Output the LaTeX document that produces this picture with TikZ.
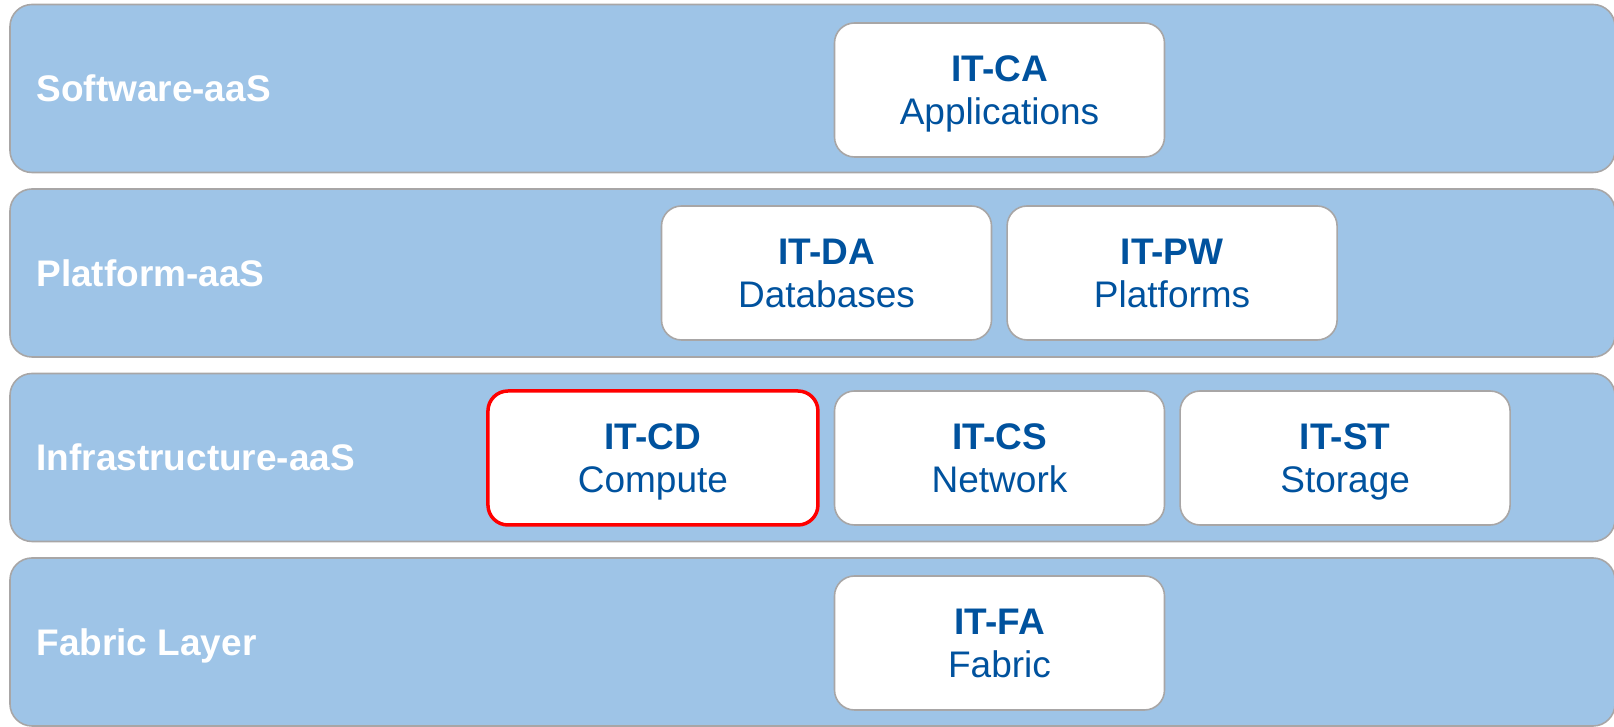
\documentclass[tikz,border=0pt]{standalone}
\usepackage{fontspec}
\setmainfont{Liberation Sans}
\usetikzlibrary{positioning}
\definecolor{layerfill}{RGB}{158,196,231}
\definecolor{layerline}{RGB}{168,166,166}
\definecolor{itblue}{RGB}{0,82,158}

\begin{document}
\begin{tikzpicture}[
    x=1pt, y=1pt,
    node distance=14pt,
    layer/.style={rectangle, draw=layerline, line width=1.6pt, fill=layerfill, rounded corners=22pt, minimum width=1605pt, minimum height=168pt, inner sep=0pt},
    layertext/.style={anchor=base west, inner sep=0pt, text=white, font=\fontsize{37}{43}\selectfont\bfseries},
    unit/.style={rectangle, draw=layerline, line width=1.6pt, fill=white, rounded corners=20pt, minimum width=330pt, minimum height=134pt, inner sep=0pt, text depth=0pt, align=center, text=itblue, font=\fontsize{37}{43}\selectfont},
    focus/.style={unit, draw=red, line width=3.5pt}
]
    \useasboundingbox (0,0) rectangle (1614,727);

    % Layers
    \node[layer] (saas) at (812.5,638.5) {};
    \node[layer] (paas) at (812.5,454) {};
    \node[layer] (iaas) at (812.5,269.5) {};
    \node[layer] (fabric) at (812.5,85) {};

    \node[layertext] (saas-lbl) at ([xshift=27pt, yshift=-13.5pt]saas.west) {Software-aaS};
    \node[layertext] (paas-lbl) at ([xshift=27pt, yshift=-13.5pt]paas.west) {Platform-aaS};
    \node[layertext] (iaas-lbl) at ([xshift=27pt, yshift=-13.5pt]iaas.west) {Infrastructure-aaS};
    \node[layertext] (fabric-lbl) at ([xshift=27pt, yshift=-13.5pt]fabric.west) {Fabric Layer};

    % Software
    \node[unit] (itca) at (999.5,637) {\textbf{IT-CA}\\Applications};

    % Platform
    \node[unit] (itda) at (826.5,454) {\textbf{IT-DA}\\Databases};
    \node[unit, right=of itda] (itpw) {\textbf{IT-PW}\\Platforms};

    % Infrastructure
    \node[unit] (itcs) at (999.5,269) {\textbf{IT-CS}\\Network};
    \node[focus, left=of itcs] (itcd) {\textbf{IT-CD}\\Compute};
    \node[unit, right=of itcs] (itst) {\textbf{IT-ST}\\Storage};

    % Fabric
    \node[unit] (itfa) at (999.5,84) {\textbf{IT-FA}\\Fabric};

\end{tikzpicture}
\end{document}
